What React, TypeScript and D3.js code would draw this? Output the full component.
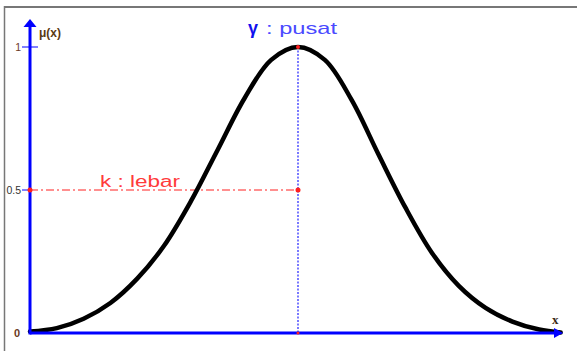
import React from "react";
import * as d3 from "d3";

// membership curve (x in arbitrary units, centre at 5)
const xValues = [0, 0.5, 1, 1.5, 2, 2.5, 3, 3.5, 4, 4.5, 5, 5.5, 6, 6.5, 7, 7.5, 8, 8.5, 9, 9.5, 9.9];
const muValues = [0.005, 0.017, 0.05, 0.105, 0.19, 0.305, 0.46, 0.64, 0.82, 0.955, 1, 0.955, 0.815, 0.625, 0.44, 0.28, 0.165, 0.088, 0.04, 0.012, 0.002];
const yTicks = [0, 0.5, 1];
const yTickLabels = ["0", "0.5", "1"];
const centre = 5; // γ : pusat
const halfValue = 0.5; // k : lebar

const W = 578;
const H = 351;

export default function App() {
  const x = d3.scaleLinear().domain([0, 10]).range([30, 566]);
  const y = d3.scaleLinear().domain([0, 1]).range([333, 47]);

  const points: [number, number][] = xValues.map((v, i) => [v, muValues[i]]);
  const line = d3
    .line<[number, number]>()
    .x((d) => x(d[0]))
    .y((d) => y(d[1]))
    .curve(d3.curveCatmullRom.alpha(0.5));

  const x0 = x(0);
  const y0 = y(0);
  const cx = x(centre);
  const labelColor = ["#6b3a1e", "#333333", "#6b3a1e"];

  return (
    <svg
      width={W}
      height={H}
      style={{ position: "absolute", left: 0, top: 0, background: "#fff" }}
      fontFamily="'Liberation Sans', Arial, sans-serif"
    >
      {/* frame */}
      <line x1={4} y1={7} x2={577} y2={7} stroke="#777" strokeWidth={2} />
      <line x1={4.5} y1={6} x2={4.5} y2={H} stroke="#777" strokeWidth={1.5} />

      {/* guides */}
      <line x1={x0} y1={y(halfValue)} x2={cx} y2={y(halfValue)} stroke="#ff2020" strokeWidth={1} strokeDasharray="8,3,2,3" />
      <line x1={cx} y1={y(1)} x2={cx} y2={y0} stroke="#2020ff" strokeWidth={1.2} strokeDasharray="2,1.5" />

      {/* curve */}
      <path d={line(points) ?? ""} fill="none" stroke="#000" strokeWidth={4.5} strokeLinecap="round" />

      {/* axes */}
      <line x1={x0} y1={y0} x2={556} y2={y0} stroke="#0000ff" strokeWidth={3} />
      <path d={`M563,${y0} L554,${y0 - 5} L554,${y0 + 5} Z`} fill="#0000ff" />
      <line x1={x0} y1={y0 + 1.5} x2={x0} y2={26} stroke="#0000ff" strokeWidth={3} />
      <path d={`M${x0},19 L${x0 - 6.5},27 L${x0 + 6.5},27 Z`} fill="#0000ff" />

      {/* y ticks */}
      <line x1={22} y1={y(1)} x2={38} y2={y(1)} stroke="#0000ff" strokeWidth={1} />
      <line x1={22} y1={y(0.5)} x2={x0} y2={y(0.5)} stroke="#0000ff" strokeWidth={1} />
      {yTicks.map((t, i) => (
        <text
          key={t}
          x={i === 0 ? 20 : 21}
          y={y(t)}
          dy="0.35em"
          textAnchor="end"
          fontSize={i === 0 ? 11 : 10.5}
          fontWeight={i === 0 ? "bold" : "normal"}
          fill={labelColor[i]}
        >
          {yTickLabels[i]}
        </text>
      ))}

      {/* markers */}
      <circle cx={x0} cy={y(halfValue)} r={2.5} fill="#ff2020" />
      <circle cx={cx} cy={y(halfValue)} r={2.5} fill="#ff2020" />
      <circle cx={cx} cy={y(1)} r={2} fill="#ff2020" />
      <circle cx={cx} cy={y0} r={1.5} fill="#ff2020" />

      {/* labels */}
      <text x={39} y={37} fontSize={12} fontWeight="bold" fill="#5a3a14">μ(x)</text>
      <text x={552} y={324} fontSize={13} fontWeight="bold" fill="#3a2a14" fontFamily="'Liberation Serif', serif">x</text>
      <text x={248} y={34} fontSize={18} fill="#1010ee" fontWeight="bold">γ</text>
      <text x={266} y={34} fontSize={17} fill="#4a4aff" textLength={71} lengthAdjust="spacingAndGlyphs">: pusat</text>
      <text x={100} y={187} fontSize={16} fill="#ff3b3b" textLength={80} lengthAdjust="spacingAndGlyphs">k : lebar</text>
    </svg>
  );
}
